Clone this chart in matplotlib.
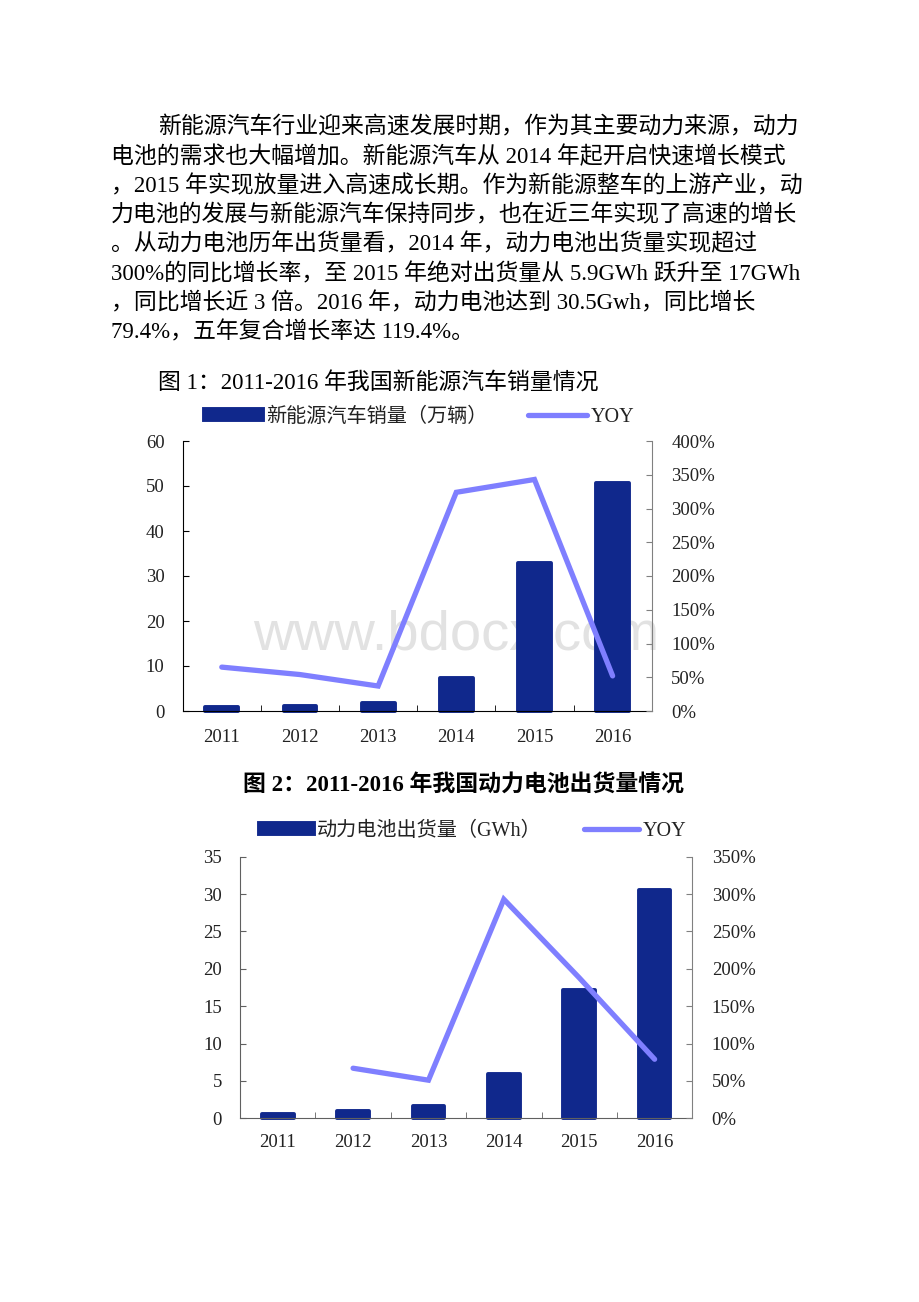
import numpy as np
import matplotlib
matplotlib.use("Agg")
import matplotlib.pyplot as plt
from matplotlib.lines import Line2D
from matplotlib.patches import Patch

# data
years = ["2011", "2012", "2013", "2014", "2015", "2016"]
ev_sales = [0.8, 1.2, 1.8, 7.4, 33.0, 50.7]          # 万辆
ev_yoy = [65, 54, 37, 324, 343, 52]                   # %
battery = [0.6, 1.0, 1.6, 5.9, 17.1, 30.5]           # GWh
battery_yoy = [np.nan, 67, 51, 293, 188, 79]          # %

body_lines = [
    "新能源汽车行业迎来高速发展时期，作为其主要动力来源，动力",
    "电池的需求也大幅增加。新能源汽车从 2014 年起开启快速增长模式",
    "，2015 年实现放量进入高速成长期。作为新能源整车的上游产业，动",
    "力电池的发展与新能源汽车保持同步，也在近三年实现了高速的增长",
    "。从动力电池历年出货量看，2014 年，动力电池出货量实现超过",
    "300%的同比增长率，至 2015 年绝对出货量从 5.9GWh 跃升至 17GWh",
    "，同比增长近 3 倍。2016 年，动力电池达到 30.5Gwh，同比增长",
    "79.4%，五年复合增长率达 119.4%。",
]

SERIF = ["Liberation Serif", "Noto Sans CJK SC"]
BAR_C = "#10288C"
LINE_C = "#7F7FFF"
W, H = 920, 1302

fig = plt.figure(figsize=(W / 100, H / 100), dpi=100)


def fx(px):
    return px / W


def fy(py):
    return 1 - py / H


# body text
for i, line in enumerate(body_lines):
    x0 = 158 if i == 0 else 111
    fig.text(fx(x0), fy(125 + 29.3 * i + 8.5), line, fontsize=16.5,
             family=SERIF, ha="left", va="baseline", color="black")

fig.text(fx(158), fy(381 + 8.5), "图 1：2011-2016 年我国新能源汽车销量情况",
         fontsize=16.5, family=SERIF, ha="left", va="baseline")
fig.text(fx(464), fy(782 + 8.5), "图 2：2011-2016 年我国动力电池出货量情况",
         fontsize=16.5, family=SERIF, fontweight="bold", ha="center", va="baseline")

# watermark
fig.text(fx(253), fy(650), "www.bdocx.com", fontsize=40.5, family="Liberation Sans",
         color="#e2e2e2", ha="left", va="baseline", zorder=-1)


def make_chart(rect, bars, yoy, ymax, ystep, pmax, bar_label, leg_anchor,
               leg_len, leg_gap, left_c, right_c, xpad):
    ax = fig.add_axes(rect)
    ax.set_facecolor("none")
    x = np.arange(len(years))
    ax.bar(x, bars, width=0.42, color=BAR_C, edgecolor=BAR_C, linewidth=2.8,
           joinstyle="round", clip_on=False, zorder=2)
    ax.set_xlim(-0.5, len(years) - 0.5)
    ax.set_ylim(0, ymax)
    ax.set_yticks(np.arange(0, ymax + 0.1, ystep))
    ax.set_xticks(x, years)
    ax.set_xticks(x[:-1] + 0.5, minor=True)
    ax.tick_params(axis="x", which="major", length=0, pad=xpad, labelsize=13.5,
                   labelcolor="#222222")
    ax.tick_params(axis="x", which="minor", direction="in", length=4.3,
                   color=left_c)
    ax.tick_params(axis="y", direction="in", length=4.3, pad=13, labelsize=13.5,
                   labelcolor="#222222", color=left_c)
    for s in ["top", "right"]:
        ax.spines[s].set_visible(False)
    ax.spines["left"].set_color(left_c)
    ax.spines["bottom"].set_color(left_c)

    ax2 = ax.twinx()
    ax2.set_facecolor("none")
    ax2.plot(x, yoy, color=LINE_C, linewidth=3.8, solid_capstyle="round",
             solid_joinstyle="miter", zorder=3)
    ax2.set_ylim(0, pmax)
    pt = np.arange(0, pmax + 1, 50)
    ax2.set_yticks(pt, [f"{int(v)}%" for v in pt])
    ax2.tick_params(axis="y", direction="in", length=4.3, pad=14, labelsize=13.5,
                    labelcolor="#222222", color=right_c)
    for s in ["top", "left", "bottom"]:
        ax2.spines[s].set_visible(False)
    ax2.spines["right"].set_color(right_c)

    for a in (ax, ax2):
        for lab in a.get_xticklabels() + a.get_yticklabels():
            lab.set_fontfamily("Liberation Serif")

    handles = [Patch(facecolor=BAR_C, edgecolor=BAR_C, linewidth=2.8, joinstyle="round"),
               Line2D([0], [0], color=LINE_C, linewidth=3.8, solid_capstyle="round")]
    leg = fig.legend(handles, [bar_label, "YOY"], loc="center left",
                     bbox_to_anchor=leg_anchor, ncol=2, frameon=False,
                     prop={"family": SERIF, "size": 14.5}, handlelength=leg_len,
                     handleheight=0.5, handletextpad=0.15, columnspacing=leg_gap,
                     borderpad=0, borderaxespad=0)
    for t in leg.get_texts():
        t.set_color("#222222")
    return ax, ax2


make_chart([fx(182.7), fy(711), fx(651.7) - fx(182.7), 270 / H],
           ev_sales, ev_yoy, 60, 10, 400, "新能源汽车销量（万辆）",
           (fx(204), fy(417)), 2.93, 2.04, "black", "#808080", 13)

make_chart([fx(240), fy(1118.3), fx(692.3) - fx(240), 261.6 / H],
           battery, battery_yoy, 35, 5, 350, "动力电池出货量（GWh）",
           (fx(259), fy(831)), 2.74, 2.09, "#606060", "#808080", 11.5)

fig.savefig("out.png", dpi=100)
